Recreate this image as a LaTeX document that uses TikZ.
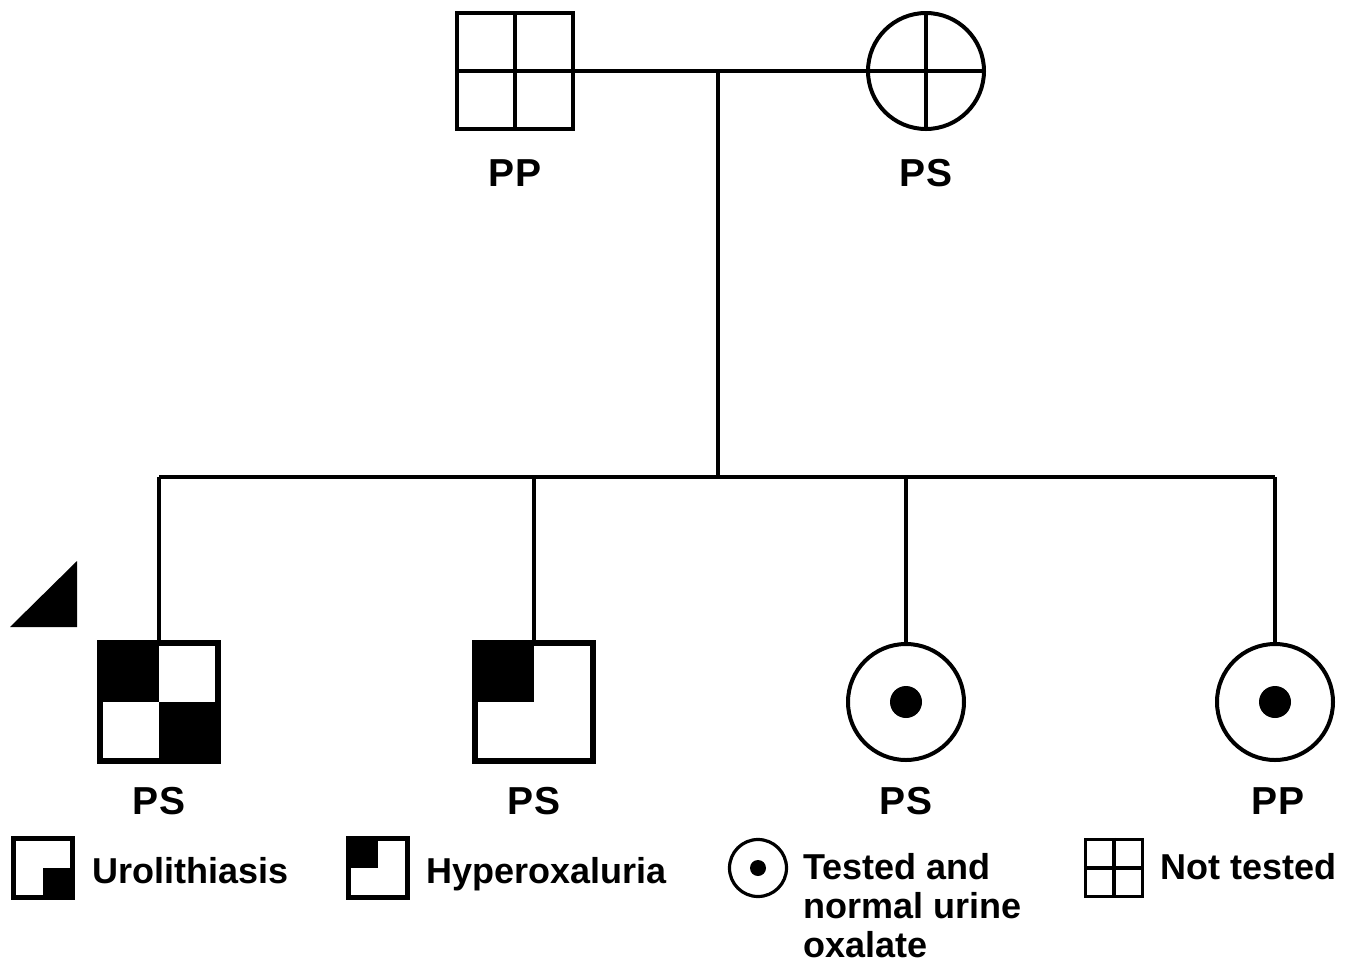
\documentclass[tikz,border=0pt]{standalone}
\usepackage{fontspec}
\setmainfont{Liberation Sans}
\begin{document}
\begin{tikzpicture}[x=0.5pt,y=-0.5pt,
  sq/.style={draw, rectangle, line width=2pt, minimum size=58pt, inner sep=0pt},
  ci/.style={draw, circle, line width=2pt, minimum size=58pt, inner sep=0pt},
  lsq/.style={draw, rectangle, line width=1.6pt, minimum size=28.5pt, inner sep=0pt},
  lci/.style={draw, circle, line width=1.6pt, minimum size=28.5pt, inner sep=0pt},
  dot/.style={fill, circle, inner sep=0pt, minimum size=#1},
  lbl/.style={font=\fontsize{19.5}{22}\selectfont\bfseries, anchor=base, inner sep=0pt},
  leg/.style={font=\fontsize{18}{19.5}\selectfont\bfseries, anchor=base west, inner sep=0pt, align=left},
  conn/.style={line width=2pt}]
\useasboundingbox (0,0) rectangle (1357,965);

% parents
\node[sq] (fa) at (515,71) {};
\node[ci] (mo) at (926,71) {};
\draw[conn] (fa.north) -- (fa.south) (fa.west) -- (fa.east);
\draw[conn] (mo.north) -- (mo.south) (mo.west) -- (mo.east);
\node[lbl] (lfa) at (515,186) {PP};
\node[lbl] (lmo) at (926,186) {PS};

% children
\node[sq] (c1) at (159,702) {};
\node[sq] (c2) at (534,702) {};
\node[ci] (c3) at (906,702) {};
\node[ci] (c4) at (1275,702) {};
\fill (c1.north west) rectangle (c1.center);
\fill (c1.center) rectangle (c1.south east);
\draw[line width=2pt] (c1.north west) rectangle (c1.south east);
\fill (c2.north west) rectangle (c2.center);
\draw[line width=2pt] (c2.north west) rectangle (c2.south east);
\node[dot=16pt] (d3) at (c3.center) {};
\node[dot=16pt] (d4) at (c4.center) {};
\node[lbl] (l1) at (159,814) {PS};
\node[lbl] (l2) at (534,814) {PS};
\node[lbl] (l3) at (906,814) {PS};
\node[lbl] (l4) at (1278,814) {PP};

% proband arrow
\fill (10,627) -- (77,627) -- (77,561) -- cycle;

% connectors
\coordinate (mid) at (718,71);
\coordinate (sib) at (718,477);
\draw[conn] (fa.east) -- (mo.west);
\draw[conn] (mid) -- (sib);
\draw[conn] (c1.north |- sib) -- (c4.north |- sib);
\draw[conn] (c1.north |- sib) -- (c1.north);
\draw[conn] (c2.north |- sib) -- (c2.north);
\draw[conn] (c3.north |- sib) -- (c3.north);
\draw[conn] (c4.north |- sib) -- (c4.north);

% legend
\node[lsq] (k1) at (43,868) {};
\fill (k1.center) rectangle (k1.south east);
\draw[line width=1.6pt] (k1.north west) rectangle (k1.south east);
\node[leg] (t1) at (92,883) {Urolithiasis};

\node[lsq] (k2) at (378,868) {};
\fill (k2.north west) rectangle (k2.center);
\draw[line width=1.6pt] (k2.north west) rectangle (k2.south east);
\node[leg] (t2) at (426,883) {Hyperoxaluria};

\node[lci] (k3) at (758,868) {};
\node[dot=8pt] (k3d) at (k3.center) {};
\node[leg] (t3) at (803,957) {Tested and\\normal urine\\oxalate};

\node[lsq] (k4) at (1114,868) {};
\draw[line width=1.6pt] (k4.north) -- (k4.south) (k4.west) -- (k4.east);
\node[leg] (t4) at (1160,879) {Not tested};
\end{tikzpicture}
\end{document}
